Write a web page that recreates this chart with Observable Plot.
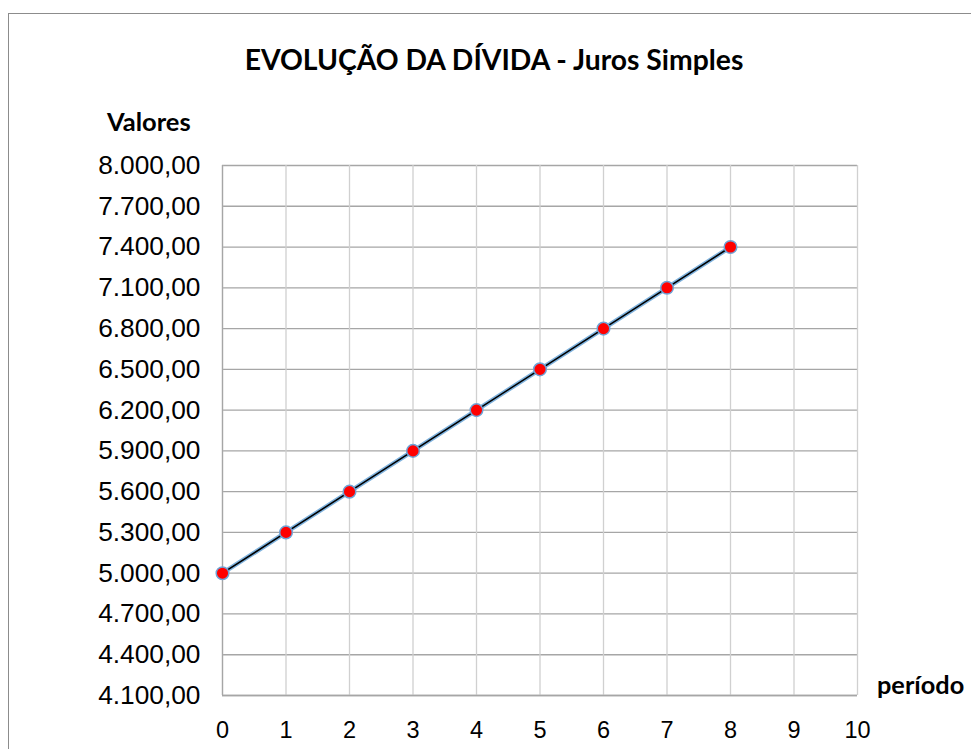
<!DOCTYPE html>
<html>
<head>
<meta charset="utf-8">
<script src="https://cdn.jsdelivr.net/npm/d3@7"></script>
<script src="https://cdn.jsdelivr.net/npm/@observablehq/plot@0.6"></script>
<style>
  html, body { margin: 0; padding: 0; background: #fff; }
  #wrap { position: relative; width: 971px; height: 749px; overflow: hidden; }
  #border { position: absolute; left: 8px; top: 13px; width: 1000px; height: 800px; border: 1px solid #8c8c8c; box-sizing: border-box; }
  .lbl { position: absolute; font-family: Lato, "Open Sans", sans-serif; font-weight: bold; color: #000; white-space: nowrap; }
  #title { left: 0; width: 988px; text-align: center; top: 42px; font-size: 28.3px; }
  #ylab { left: 107px; top: 106px; font-size: 25.5px; }
  #xlab { left: 877px; top: 669px; font-size: 25.3px; }
  #chart { position: absolute; left: 0; top: 0; }
</style>
</head>
<body>
<div id="wrap">
  <div id="border"></div>
  <div class="lbl" id="title">EVOLUÇÃO DA DÍVIDA - Juros Simples</div>
  <div class="lbl" id="ylab">Valores</div>
  <div class="lbl" id="xlab">período</div>
  <div id="chart"></div>
</div>
<script>
const periodos = [0, 1, 2, 3, 4, 5, 6, 7, 8];
const valores = [5000, 5300, 5600, 5900, 6200, 6500, 6800, 7100, 7400];
const xTicks = [0, 1, 2, 3, 4, 5, 6, 7, 8, 9, 10];
const yTicks = [4100, 4400, 4700, 5000, 5300, 5600, 5900, 6200, 6500, 6800, 7100, 7400, 7700, 8000];

const data = periodos.map((p, i) => ({periodo: p, valor: valores[i]}));
const ptBR = d3.formatLocale({decimal: ",", thousands: ".", grouping: [3], currency: ["", ""]});
const fmt = ptBR.format(",.2f");

const chart = Plot.plot({
  width: 971,
  height: 749,
  marginLeft: 222,
  marginRight: 114,
  marginTop: 165,
  marginBottom: 54,
  style: {fontFamily: "'Liberation Sans', Arial, sans-serif", background: "transparent"},
  x: {domain: [0, 10], ticks: xTicks, label: null},
  y: {domain: [4100, 8000], ticks: yTicks, label: null},
  marks: [
    Plot.gridY(yTicks, {stroke: "#a6a6a6", strokeOpacity: 1, strokeWidth: 1.3}),
    Plot.gridX(xTicks, {stroke: "#d0d0d0", strokeOpacity: 1, strokeWidth: 1.3}),
    Plot.ruleX([0], {stroke: "#a6a6a6", strokeWidth: 1.3}),
    Plot.ruleY([4100], {stroke: "#a6a6a6", strokeWidth: 1.3}),
    Plot.axisY(yTicks, {tickSize: 0, tickPadding: 22, tickFormat: fmt, fontSize: 26.3, label: null}),
    Plot.axisX(xTicks, {tickSize: 0, tickPadding: 26, fontSize: 23.5, label: null}),
    Plot.line(data, {x: "periodo", y: "valor", stroke: "#7fb2dd", strokeWidth: 4.5}),
    Plot.line(data, {x: "periodo", y: "valor", stroke: "#000", strokeWidth: 1.6}),
    Plot.dot(data, {x: "periodo", y: "valor", r: 6.3, fill: "#ff0000", stroke: "#6fa3d6", strokeWidth: 1.5})
  ]
});
document.getElementById("chart").appendChild(chart);
</script>
</body>
</html>
